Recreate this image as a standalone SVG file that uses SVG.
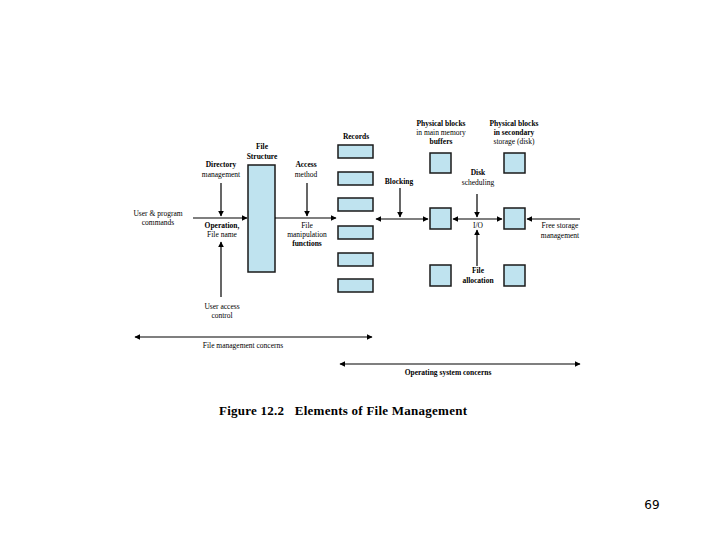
<svg xmlns="http://www.w3.org/2000/svg" width="720" height="540" viewBox="0 0 720 540">
<style>
text{font-family:"Liberation Serif","Times New Roman",serif;font-size:7.5px;fill:#000;text-anchor:middle}
.b{font-weight:bold}
.box{fill:#bfe3ef;stroke:#1a1a1a;stroke-width:1.5}
.ln{stroke:#000;stroke-width:1.2;fill:none}
</style>
<defs>
<marker id="ah" viewBox="0 0 10 10" refX="9" refY="5" markerWidth="6" markerHeight="6" orient="auto-start-reverse" markerUnits="userSpaceOnUse">
<path d="M0,0 L10,5 L0,10 z" fill="#000"/>
</marker>
</defs>
<rect width="720" height="540" fill="#fff"/>
<g id="file-structure"><rect class="box" x="248" y="165" width="27" height="107"/><text class="b" x="262" y="149">File</text><text class="b" x="262" y="159">Structure</text></g>
<g id="records"><text class="b" x="356" y="139">Records</text>
<rect class="box" x="338" y="145" width="35" height="13"/>
<rect class="box" x="338" y="172" width="35" height="13"/>
<rect class="box" x="338" y="198" width="35" height="13"/>
<rect class="box" x="338" y="226" width="35" height="13"/>
<rect class="box" x="338" y="253" width="35" height="13"/>
<rect class="box" x="338" y="279" width="35" height="13"/></g>
<g id="mem-blocks"><text class="b" x="441" y="126">Physical blocks</text><text x="441" y="135">in main memory</text><text class="b" x="441" y="144">buffers</text>
<rect class="box" x="430" y="153" width="21" height="20"/><rect class="box" x="430" y="208" width="21" height="21"/><rect class="box" x="430" y="265" width="21" height="21"/></g>
<g id="disk-blocks"><text class="b" x="514" y="126">Physical blocks</text><text class="b" x="514" y="135">in secondary</text><text x="514" y="144">storage (disk)</text>
<rect class="box" x="504" y="153" width="21" height="20"/><rect class="box" x="504" y="208" width="21" height="21"/><rect class="box" x="504" y="265" width="21" height="21"/></g>
<g id="labels">
<text class="b" x="221" y="167">Directory</text><text x="221" y="177">management</text>
<text class="b" x="306" y="167">Access</text><text x="306" y="177">method</text>
<text x="158" y="216">User &amp; program</text><text x="158" y="225">commands</text>
<text class="b" x="222" y="228">Operation,</text><text x="222" y="237">File name</text>
<text x="307" y="228">File</text><text x="307" y="237">manipulation</text><text class="b" x="307" y="246">functions</text>
<text x="222" y="309">User access</text><text x="222" y="318">control</text>
<text class="b" x="399" y="184">Blocking</text>
<text class="b" x="478" y="175">Disk</text><text x="478" y="185">scheduling</text>
<text x="478" y="228">I/O</text>
<text class="b" x="478" y="273">File</text><text class="b" x="478" y="283">allocation</text>
<text x="560" y="228">Free storage</text><text x="560" y="238">management</text>
<text x="243" y="348">File management concerns</text>
<text class="b" x="448" y="375">Operating system concerns</text>
</g>
<g id="connectors">
<line class="ln" x1="193" y1="218" x2="247" y2="218" marker-end="url(#ah)"/>
<line class="ln" x1="221" y1="183" x2="221" y2="216" marker-end="url(#ah)"/>
<line class="ln" x1="221" y1="297" x2="221" y2="242" marker-end="url(#ah)"/>
<line class="ln" x1="275" y1="218" x2="336" y2="218" marker-end="url(#ah)"/>
<line class="ln" x1="307" y1="183" x2="307" y2="216" marker-end="url(#ah)"/>
<line class="ln" x1="376" y1="219" x2="428" y2="219" marker-start="url(#ah)" marker-end="url(#ah)"/>
<line class="ln" x1="400" y1="188" x2="400" y2="217" marker-end="url(#ah)"/>
<line class="ln" x1="453" y1="219" x2="502" y2="219" marker-start="url(#ah)" marker-end="url(#ah)"/>
<line class="ln" x1="477" y1="194" x2="477" y2="217" marker-end="url(#ah)"/>
<line class="ln" x1="477" y1="266" x2="477" y2="230" marker-end="url(#ah)"/>
<line class="ln" x1="580" y1="219" x2="527" y2="219" marker-end="url(#ah)"/>
<line class="ln" x1="135" y1="337" x2="372" y2="337" marker-start="url(#ah)" marker-end="url(#ah)"/>
<line class="ln" x1="340" y1="364" x2="580" y2="364" marker-start="url(#ah)" marker-end="url(#ah)"/>
</g>
<text class="b" x="219" y="415" style="font-size:13px;text-anchor:start;white-space:pre" xml:space="preserve" textLength="248">Figure 12.2   Elements of File Management</text>
<text x="652" y="509" style="font-family:'DejaVu Sans','Liberation Sans',sans-serif;font-size:12px">69</text>
</svg>
